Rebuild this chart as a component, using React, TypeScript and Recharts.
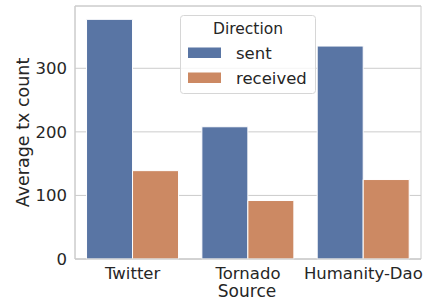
import React from 'react';
import { BarChart, Bar, XAxis, YAxis, CartesianGrid, Legend, ReferenceArea, Label } from 'recharts';

const categories = ['Twitter', 'Tornado', 'Humanity-Dao'];
const sentValues = [377, 208, 335];
const receivedValues = [139, 92, 125];
const yTicks = [0, 100, 200, 300];
const seriesNames = ['sent', 'received'];
const seriesColors = ['#5975a4', '#cc8963'];

const data = categories.map((c, i) => ({ source: c, sent: sentValues[i], received: receivedValues[i] }));

const FONT = '"DejaVu Sans", sans-serif';
const TEXT = '#262626';
const GRID = '#cccccc';

const LegendBox = () => (
  <svg width={136} height={79} style={{ display: 'block' }}>
    <rect x={0.5} y={0.5} width={135} height={78} rx={3} ry={3} fill="rgba(255,255,255,0.8)" stroke="#d6d6d6" strokeWidth={1} />
    <text x={68} y={13.5} textAnchor="middle" dominantBaseline="central" fontFamily={FONT} fontSize={15.5} fill={TEXT}>Direction</text>
    {seriesNames.map((n, i) => (
      <g key={n}>
        <rect x={8} y={32.5 + i * 25} width={33} height={10.5} fill={seriesColors[i]} />
        <text x={56} y={38 + i * 25} dominantBaseline="central" fontFamily={FONT} fontSize={16.5} fill={TEXT}>{n}</text>
      </g>
    ))}
  </svg>
);

export default function App() {
  return (
    <div style={{ position: 'absolute', left: 0, top: 0, background: '#fff' }}>
      <BarChart width={429} height={300} data={data} margin={{ top: 6, right: 8, left: 0, bottom: 0 }} barCategoryGap="10%" barGap={0}>
        <CartesianGrid vertical={false} stroke={GRID} strokeWidth={1} />
        <XAxis
          dataKey="source"
          height={41}
          tickLine={false}
          axisLine={{ stroke: GRID }}
          tickSize={0}
          tickMargin={8}
          tick={{ fontFamily: FONT, fontSize: 16.5, fill: TEXT }}
          interval={0}
        >
          <Label
            content={() => (
              <text x={247} y={290.5} textAnchor="middle" dominantBaseline="central" fontFamily={FONT} fontSize={17} fill={TEXT}>Source</text>
            )}
          />
        </XAxis>
        <YAxis
          width={75}
          domain={[0, 398]}
          ticks={yTicks}
          tickLine={false}
          axisLine={{ stroke: GRID }}
          tickSize={0}
          tickMargin={8}
          tick={{ fontFamily: FONT, fontSize: 16.5, fill: TEXT }}
        >
          <Label
            content={() => (
              <text x={23} y={132.5} transform="rotate(-90 23 132.5)" textAnchor="middle" dominantBaseline="central" fontFamily={FONT} fontSize={17.5} fill={TEXT}>Average tx count</text>
            )}
          />
        </YAxis>
        <Bar dataKey="sent" name="sent" fill={seriesColors[0]} stroke="#ffffff" strokeWidth={1} isAnimationActive={false} />
        <Bar dataKey="received" name="received" fill={seriesColors[1]} stroke="#ffffff" strokeWidth={1} isAnimationActive={false} />
        <ReferenceArea y1={0} y2={398} fill="none" stroke={GRID} strokeWidth={1} ifOverflow="visible" />
        <Legend
          layout="vertical"
          align="center"
          verticalAlign="middle"
          wrapperStyle={{ left: 180, top: 15, width: 136, height: 79 }}
          content={() => <LegendBox />}
        />
      </BarChart>
    </div>
  );
}
